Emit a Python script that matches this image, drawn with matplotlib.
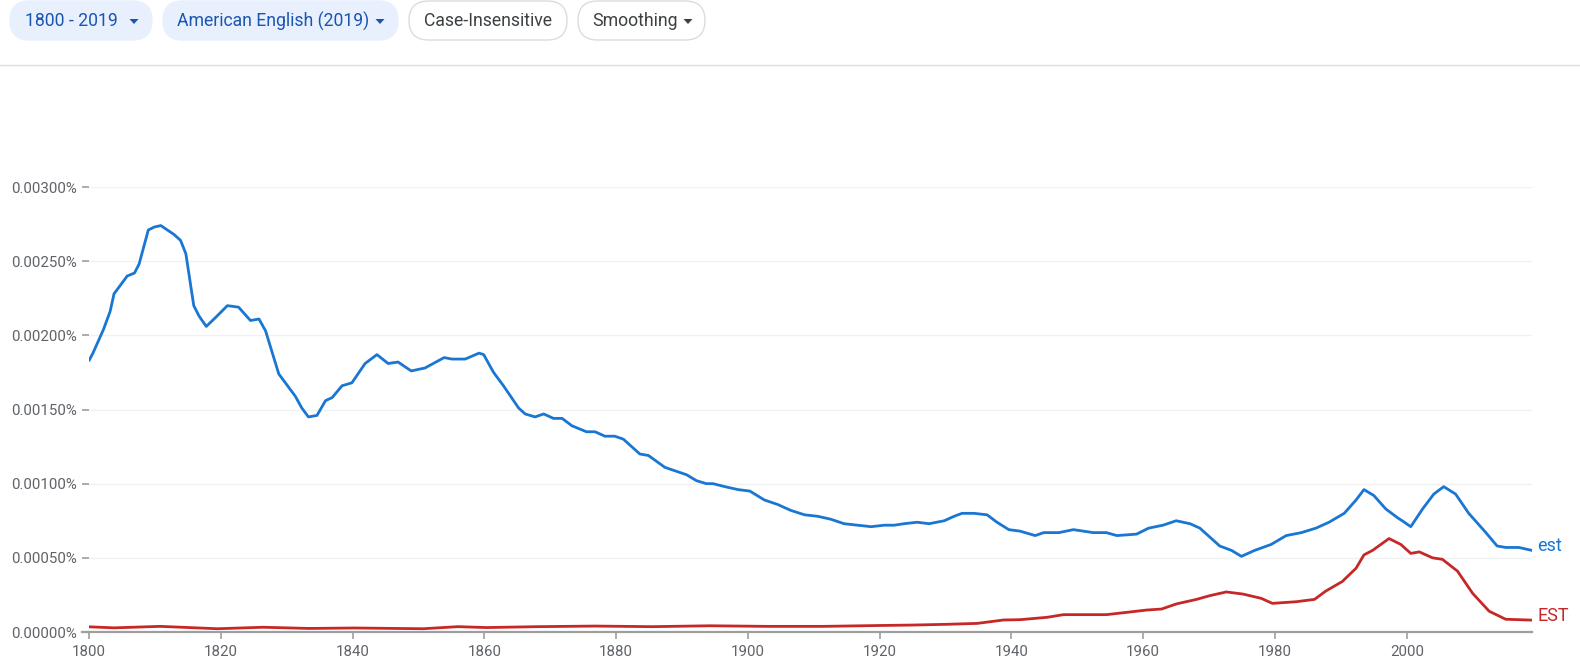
import matplotlib
matplotlib.use("Agg")
import matplotlib.pyplot as plt
from matplotlib.patches import FancyBboxPatch, Polygon
from matplotlib.transforms import IdentityTransform

plt.rcParams['font.family'] = ['Roboto', 'DejaVu Sans']

# values (percent of all words)
est_years = [1800.0, 1800.6, 1802.2, 1803.2, 1803.8, 1805.8, 1806.9, 1807.6, 1809.0, 1809.9,
             1810.9, 1811.9, 1812.9, 1813.9, 1814.7, 1815.9, 1816.7, 1817.8, 1819.2, 1821.0,
             1822.7, 1824.5, 1825.8, 1826.8, 1828.8, 1831.3, 1832.3, 1833.3, 1834.6, 1835.9,
             1836.9, 1838.4, 1839.9, 1841.9, 1843.7, 1845.4, 1846.9, 1848.9, 1851.0, 1853.9,
             1855.1, 1857.1, 1859.2, 1859.9, 1861.4, 1862.9, 1865.2, 1866.2, 1867.7, 1869.0,
             1870.5, 1871.8, 1873.3, 1875.5, 1876.8, 1878.3, 1879.8, 1881.1, 1883.6, 1884.9,
             1887.4, 1889.4, 1890.7, 1892.2, 1893.7, 1894.7, 1896.5, 1898.5, 1900.3, 1902.5,
             1904.5, 1906.5, 1908.6, 1910.6, 1912.6, 1914.6, 1916.6, 1918.7, 1920.7, 1922.2,
             1923.7, 1925.7, 1927.5, 1929.8, 1931.3, 1932.5, 1934.3, 1936.3, 1937.8, 1939.6,
             1941.3, 1943.6, 1944.9, 1947.2, 1949.4, 1952.4, 1954.4, 1956.0, 1959.0, 1960.8,
             1963.0, 1965.0, 1967.1, 1968.6, 1971.6, 1973.4, 1974.9, 1976.9, 1979.4, 1981.7,
             1984.0, 1986.2, 1988.2, 1990.5, 1992.3, 1993.5, 1995.0, 1996.8, 1998.6, 1999.3,
             2000.6, 2002.4, 2004.1, 2005.6, 2007.4, 2009.4, 2012.0, 2013.7, 2015.0, 2017.0,
             2019.0]
est_values = [0.00183, 0.00188, 0.00204, 0.00216, 0.00228, 0.00240, 0.00242, 0.00248, 0.00271, 0.00273,
              0.00274, 0.00271, 0.00268, 0.00264, 0.00255, 0.00220, 0.00213, 0.00206, 0.00212, 0.00220,
              0.00219, 0.00210, 0.00211, 0.00203, 0.00174, 0.00159, 0.00151, 0.00145, 0.00146, 0.00156,
              0.00158, 0.00166, 0.00168, 0.00181, 0.00187, 0.00181, 0.00182, 0.00176, 0.00178, 0.00185,
              0.00184, 0.00184, 0.00188, 0.00187, 0.00175, 0.00166, 0.00151, 0.00147, 0.00145, 0.00147,
              0.00144, 0.00144, 0.00139, 0.00135, 0.00135, 0.00132, 0.00132, 0.00130, 0.00120, 0.00119,
              0.00111, 0.00108, 0.00106, 0.00102, 0.00100, 0.00100, 0.00098, 0.00096, 0.00095, 0.00089,
              0.00086, 0.00082, 0.00079, 0.00078, 0.00076, 0.00073, 0.00072, 0.00071, 0.00072, 0.00072,
              0.00073, 0.00074, 0.00073, 0.00075, 0.00078, 0.00080, 0.00080, 0.00079, 0.00074, 0.00069,
              0.00068, 0.00065, 0.00067, 0.00067, 0.00069, 0.00067, 0.00067, 0.00065, 0.00066, 0.00070,
              0.00072, 0.00075, 0.00073, 0.00070, 0.00058, 0.00055, 0.00051, 0.00055, 0.00059, 0.00065,
              0.00067, 0.00070, 0.00074, 0.00080, 0.00089, 0.00096, 0.00092, 0.00083, 0.00077, 0.00075,
              0.00071, 0.00083, 0.00093, 0.00098, 0.00093, 0.00080, 0.00067, 0.00058, 0.00057, 0.00057,
              0.00055]

EST_years = [1800.0, 1803.8, 1810.8, 1819.5, 1826.4, 1833.4, 1840.3, 1850.7, 1856.0, 1860.3,
             1868.1, 1876.8, 1885.5, 1894.2, 1902.9, 1911.5, 1920.2, 1925.2, 1930.3, 1934.8,
             1938.8, 1941.3, 1945.4, 1947.9, 1954.4, 1958.0, 1960.5, 1962.8, 1965.0, 1968.1,
             1970.1, 1972.6, 1975.1, 1977.9, 1979.6, 1983.2, 1986.0, 1987.7, 1990.2, 1992.3,
             1993.5, 1994.8, 1997.3, 1999.1, 2000.6, 2001.9, 2003.9, 2005.4, 2007.7, 2010.0,
             2012.5, 2015.0, 2019.0]
EST_values = [0.000035, 0.000028, 0.000038, 0.000022, 0.000032, 0.000024, 0.000027, 0.000022, 0.000036, 0.000030,
              0.000036, 0.000040, 0.000036, 0.000042, 0.000038, 0.000038, 0.000044, 0.000047, 0.000052, 0.000058,
              0.000081, 0.000083, 0.000099, 0.000117, 0.000117, 0.000135, 0.000148, 0.000155, 0.000189, 0.000220,
              0.000245, 0.000270, 0.000256, 0.000227, 0.000193, 0.000204, 0.000220, 0.000276, 0.000340, 0.000430,
              0.000520, 0.000550, 0.000630, 0.000590, 0.000530, 0.000540, 0.000500, 0.000490, 0.000410, 0.000260,
              0.000140, 0.000086, 0.000080]

x_ticks = [1800, 1820, 1840, 1860, 1880, 1900, 1920, 1940, 1960, 1980, 2000]
y_ticks = [0.0, 0.0005, 0.0010, 0.0015, 0.0020, 0.0025, 0.0030]

W, H = 1580, 663
BLUE = '#1976d2'
RED = '#c62828'
AXIS_GREY = '#9e9e9e'
TEXT_GREY = '#5f6368'

fig = plt.figure(figsize=(W / 100, H / 100), dpi=100)
fig.patch.set_facecolor('white')


def draw_pill(x0, x1, label, tx, filled, arrow_x=None):
    """Draws one of the option chips at the top, in image pixel coords."""
    y0, y1 = 1, 40
    if filled:
        face, edge, color = '#e8f0fe', '#e8f0fe', '#1a55b0'
    else:
        face, edge, color = 'white', '#dadce0', '#3c4043'
    box = FancyBboxPatch((x0, H - y1), x1 - x0, y1 - y0,
                         boxstyle="round,pad=0,rounding_size=19.5",
                         transform=IdentityTransform(), facecolor=face,
                         edgecolor=edge, linewidth=1)
    fig.add_artist(box)
    fig.text(tx / W, 1 - 21 / H, label, color=color, fontsize=12.7,
             ha='left', va='center')
    if arrow_x is not None:
        tri = Polygon([(arrow_x - 4.5, H - 19), (arrow_x + 4.5, H - 19), (arrow_x, H - 24)],
                      closed=True, transform=IdentityTransform(), facecolor=color,
                      edgecolor='none')
        fig.add_artist(tri)


draw_pill(10, 152, "1800 - 2019", 25, True, arrow_x=134)
draw_pill(163, 398, "American English (2019)", 177, True, arrow_x=380)
draw_pill(409, 567, "Case-Insensitive", 424, False)
draw_pill(578, 705, "Smoothing", 592, False, arrow_x=688)

# divider under the chips
fig.add_artist(plt.Line2D([0, 1], [1 - 64.5 / H] * 2, transform=fig.transFigure,
                          color='#dadce0', linewidth=1))

# main chart area
left, right, top, bottom = 89, 1532, 187, 632
ax = fig.add_axes([left / W, 1 - bottom / H, (right - left) / W, (bottom - top) / H])
ax.set_xlim(1800, 2019)
ax.set_ylim(0, 0.003)

for v in y_ticks[1:]:
    ax.axhline(v, color='#f1f1f1', linewidth=1, zorder=0)

ax.plot(est_years, est_values, color=BLUE, linewidth=2.0, solid_capstyle='round',
        solid_joinstyle='round', zorder=3)
ax.plot(EST_years, EST_values, color=RED, linewidth=2.0, solid_capstyle='round',
        solid_joinstyle='round', zorder=3)

ax.annotate("est", (est_years[-1], est_values[-1]), xytext=(4, 3), textcoords='offset points',
            color=BLUE, fontsize=13, ha='left', va='center')
ax.annotate("EST", (EST_years[-1], EST_values[-1]), xytext=(4, 3), textcoords='offset points',
            color=RED, fontsize=13, ha='left', va='center')

for side in ['top', 'right', 'left']:
    ax.spines[side].set_visible(False)
ax.spines['bottom'].set_color(AXIS_GREY)
ax.spines['bottom'].set_linewidth(1.6)
# small stub of the x axis to the left of 1800
ax.plot([-7 / (right - left), 0], [0, 0], transform=ax.get_yaxis_transform(),
        color=AXIS_GREY, linewidth=1.6, clip_on=False)

ax.set_xticks(x_ticks)
ax.set_xticklabels([str(t) for t in x_ticks])
ax.set_yticks(y_ticks)
ax.set_yticklabels([f"{v:.5f}%" for v in y_ticks])
ax.tick_params(axis='x', length=5, width=1.2, color=AXIS_GREY, pad=4.5,
               labelsize=10.8, labelcolor=TEXT_GREY)
ax.tick_params(axis='y', length=5, width=1.2, color=AXIS_GREY, pad=3.5,
               labelsize=10.8, labelcolor=TEXT_GREY)
ax.patch.set_alpha(0)

fig.savefig("out.png", dpi=100, facecolor='white')
